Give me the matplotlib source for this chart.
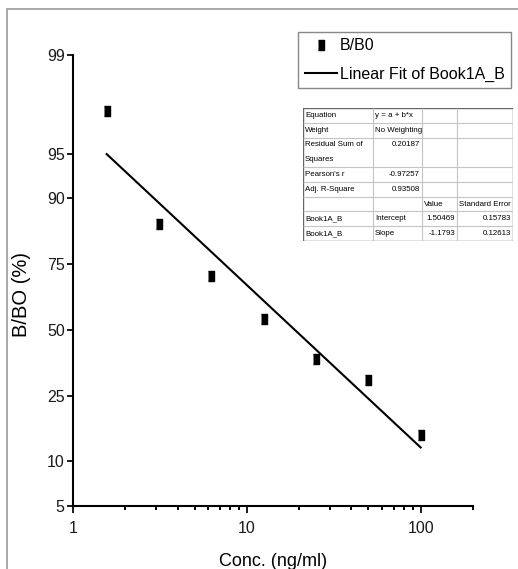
import numpy as np
import matplotlib
matplotlib.use('Agg')
import matplotlib.pyplot as plt
from matplotlib import font_manager
from matplotlib.patches import Rectangle
from matplotlib.ticker import LogLocator, NullFormatter, NullLocator

# data
conc = [1.5625, 3.125, 6.25, 12.5, 25, 50, 100]          # ng/ml
b_b0 = [97.5, 85.5, 71.1, 54.5, 38.1, 30.2, 14.7]         # %
intercept = 1.50469
slope = -1.1793

y_ticks = [5, 10, 25, 50, 75, 90, 95, 99]
x_ticks = [1, 10, 100]

table_rows = [
    ["Equation", "y = a + b*x", "", ""],
    ["Weight", "No Weighting", "", ""],
    ["Residual Sum of\nSquares", "0.20187", "", ""],
    ["Pearson's r", "-0.97257", "", ""],
    ["Adj. R-Square", "0.93508", "", ""],
    ["", "", "Value", "Standard Error"],
    ["Book1A_B", "Intercept", "1.50469", "0.15783"],
    ["Book1A_B", "Slope", "-1.1793", "0.12613"],
]

names = {f.name for f in font_manager.fontManager.ttflist}
narrow = 'Liberation Sans Narrow' if 'Liberation Sans Narrow' in names else 'Liberation Sans'
plt.rcParams['font.family'] = [narrow, 'DejaVu Sans']

fig = plt.figure(figsize=(5.18, 5.69), dpi=100)
ax = fig.add_axes([73/518, 1 - 506/569, 400/518, 451/569])

# points + linear fit (log10 odds vs log10 conc)
p = np.array(b_b0) / 100
ax.plot(conc, p, linestyle='none', color='black',
        marker=[(-0.33, -0.5), (0.33, -0.5), (0.33, 0.5), (-0.33, 0.5)],
        markersize=6.5, label='B/B0')
fx = np.logspace(np.log10(min(conc)), np.log10(max(conc)), 50)
odds = 10 ** (intercept + slope * np.log10(fx))
ax.plot(fx, odds / (1 + odds), color='black', lw=1.5, label='Linear Fit of Book1A_B')

ax.set_xscale('log')
ax.set_yscale('logit')
ax.set_xlim(1, 200)
ax.set_ylim(0.05, 0.99)
ax.set_xticks(x_ticks, [str(t) for t in x_ticks])
ax.xaxis.set_minor_locator(LogLocator(base=10, subs=np.arange(2, 10)))
ax.xaxis.set_minor_formatter(NullFormatter())
ax.set_yticks([t / 100 for t in y_ticks], [str(t) for t in y_ticks])
ax.yaxis.set_minor_locator(NullLocator())

for s in ['top', 'right']:
    ax.spines[s].set_visible(False)
for s in ['left', 'bottom']:
    ax.spines[s].set_linewidth(1.5)
ax.tick_params(axis='x', which='major', direction='out', length=5, width=1.4,
               labelsize=11.5, pad=6, colors='#1a1a1a')
ax.tick_params(axis='x', which='minor', direction='out', length=3, width=1.4)
ax.tick_params(axis='y', which='major', direction='out', length=4, width=1.4,
               labelsize=11.5, pad=2, colors='#1a1a1a')

ax.set_ylabel('B/BO (%)', fontsize=14.5, family=['Liberation Sans', 'DejaVu Sans'])
ax.yaxis.set_label_coords(-0.105, 0.47)
ax.set_xlabel('Conc. (ng/ml)', fontsize=13, labelpad=12)

leg = ax.legend(loc='upper right', bbox_to_anchor=(511/518, 1 - 32/569),
                bbox_transform=fig.transFigure, fontsize=11.5, numpoints=1,
                fancybox=False, edgecolor='#888888', framealpha=1,
                handlelength=2.0, handletextpad=0.2, labelspacing=0.85,
                borderpad=0.4, borderaxespad=0)
leg.get_frame().set_linewidth(1)

# statistics table
tab = fig.add_axes([303/518, 1 - 241/569, 210/518, 133/569])
tab.set_xlim(0, 210)
tab.set_ylim(133, 0)
tab.axis('off')
col_edges = [0, 70, 119, 154, 210]
row_h = [1, 1, 2, 1, 1, 1, 1, 1]
unit = 133 / sum(row_h)
row_edges = np.concatenate([[0], np.cumsum(row_h) * unit])
tab.hlines(row_edges[1:-1], 0, 210, color='#c4c4c4', lw=0.8)
tab.vlines(col_edges[1:-1], 0, 133, color='#c4c4c4', lw=0.8)
tab.add_patch(Rectangle((0, 0), 210, 133, fill=False, edgecolor='#666666', lw=1))
fs = 5.7
for i, row in enumerate(table_rows):
    for j, txt in enumerate(row):
        if not txt:
            continue
        numeric = txt.replace('-', '').replace('.', '').isdigit()
        y0 = row_edges[i] + unit / 2
        if numeric:
            tab.text(col_edges[j + 1] - 2, y0, txt, ha='right', va='center', fontsize=fs)
        elif '\n' in txt:
            for k, part in enumerate(txt.split('\n')):
                tab.text(col_edges[j] + 2, y0 + k * unit, part, ha='left', va='center', fontsize=fs)
        else:
            tab.text(col_edges[j] + 2, y0, txt, ha='left', va='center', fontsize=fs)

# grey frame around the picture
fig.add_artist(Rectangle((7/518, -0.1), 1.2, 1.1 - 9/569, transform=fig.transFigure,
                         fill=False, edgecolor='#9a9a9a', lw=1.2))

fig.savefig('out.png', dpi=100)
